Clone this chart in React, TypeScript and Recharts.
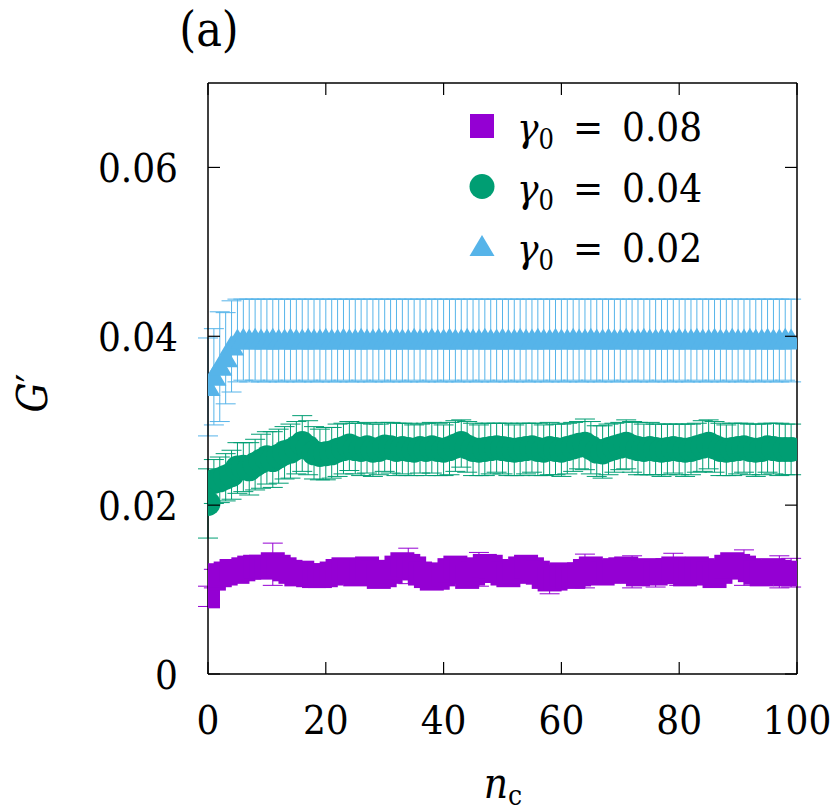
import React from 'react';
import { ScatterChart, Scatter, XAxis, YAxis, ErrorBar } from 'recharts';

// cycle index n_c
const nc = [
  0, 1, 2, 3, 4, 5, 6, 7, 8, 9, 10, 11, 12, 13, 14, 15, 16, 17, 18, 19,
  20, 21, 22, 23, 24, 25, 26, 27, 28, 29, 30, 31, 32, 33, 34, 35, 36, 37, 38, 39,
  40, 41, 42, 43, 44, 45, 46, 47, 48, 49, 50, 51, 52, 53, 54, 55, 56, 57, 58, 59,
  60, 61, 62, 63, 64, 65, 66, 67, 68, 69, 70, 71, 72, 73, 74, 75, 76, 77, 78, 79,
  80, 81, 82, 83, 84, 85, 86, 87, 88, 89, 90, 91, 92, 93, 94, 95, 96, 97, 98, 99,
];

// gamma0 = 0.08
const g008 = [
  0.0092, 0.0113, 0.0117, 0.0119, 0.0122, 0.0121, 0.0124, 0.0126, 0.0127, 0.0127,
  0.0126, 0.0130, 0.0127, 0.0124, 0.0121, 0.0118, 0.0120, 0.0117, 0.0116, 0.0116,
  0.0117, 0.0119, 0.0122, 0.0124, 0.0121, 0.0118, 0.0123, 0.0125, 0.0120, 0.0115,
  0.0117, 0.0121, 0.0126, 0.0130, 0.0128, 0.0125, 0.0119, 0.0116, 0.0113, 0.0114,
  0.0118, 0.0123, 0.0126, 0.0121, 0.0115, 0.0119, 0.0124, 0.0128, 0.0127, 0.0122,
  0.0119, 0.0117, 0.0121, 0.0125, 0.0127, 0.0124, 0.0120, 0.0115, 0.0112, 0.0113,
  0.0118, 0.0116, 0.0115, 0.0118, 0.0122, 0.0125, 0.0121, 0.0119, 0.0121, 0.0123,
  0.0124, 0.0125, 0.0121, 0.0118, 0.0120, 0.0123, 0.0119, 0.0121, 0.0123, 0.0125,
  0.0121, 0.0118, 0.0122, 0.0125, 0.0123, 0.0119, 0.0116, 0.0121, 0.0127, 0.0130,
  0.0128, 0.0126, 0.0123, 0.0120, 0.0118, 0.0121, 0.0123, 0.0121, 0.0118, 0.0120,
];
const g008Err = [
  0.0012, 0.0011, 0.0010, 0.0010, 0.0011, 0.0010, 0.0011, 0.0011, 0.0010, 0.0011,
  0.0012, 0.0025, 0.0011, 0.0010, 0.0010, 0.0011, 0.0010, 0.0011, 0.0010, 0.0011,
  0.0010, 0.0011, 0.0011, 0.0010, 0.0011, 0.0010, 0.0011, 0.0011, 0.0010, 0.0011,
  0.0010, 0.0011, 0.0011, 0.0012, 0.0021, 0.0011, 0.0011, 0.0010, 0.0011, 0.0010,
  0.0011, 0.0010, 0.0011, 0.0010, 0.0011, 0.0011, 0.0020, 0.0011, 0.0011, 0.0010,
  0.0011, 0.0010, 0.0011, 0.0011, 0.0011, 0.0010, 0.0011, 0.0011, 0.0017, 0.0011,
  0.0010, 0.0011, 0.0010, 0.0011, 0.0020, 0.0011, 0.0010, 0.0011, 0.0010, 0.0011,
  0.0010, 0.0011, 0.0019, 0.0011, 0.0010, 0.0011, 0.0016, 0.0011, 0.0010, 0.0018,
  0.0016, 0.0011, 0.0010, 0.0011, 0.0010, 0.0011, 0.0010, 0.0011, 0.0011, 0.0011,
  0.0010, 0.0021, 0.0011, 0.0010, 0.0011, 0.0010, 0.0011, 0.0019, 0.0010, 0.0017,
];

// gamma0 = 0.04
const g004 = [
  0.0202, 0.0228, 0.0230, 0.0233, 0.0236, 0.0244, 0.0245, 0.0243, 0.0248, 0.0252,
  0.0256, 0.0254, 0.0258, 0.0262, 0.0264, 0.0268, 0.0273, 0.0268, 0.0262, 0.0260,
  0.0261, 0.0262, 0.0265, 0.0267, 0.0270, 0.0267, 0.0266, 0.0268, 0.0265, 0.0266,
  0.0269, 0.0268, 0.0266, 0.0267, 0.0266, 0.0265, 0.0267, 0.0266, 0.0268, 0.0266,
  0.0265, 0.0267, 0.0270, 0.0273, 0.0269, 0.0266, 0.0265, 0.0266, 0.0267, 0.0268,
  0.0267, 0.0266, 0.0265, 0.0266, 0.0267, 0.0268, 0.0266, 0.0265, 0.0267, 0.0266,
  0.0265, 0.0267, 0.0269, 0.0271, 0.0272, 0.0268, 0.0264, 0.0263, 0.0266, 0.0268,
  0.0270, 0.0272, 0.0269, 0.0267, 0.0266, 0.0267, 0.0266, 0.0265, 0.0266, 0.0267,
  0.0266, 0.0265, 0.0266, 0.0268, 0.0270, 0.0272, 0.0269, 0.0266, 0.0265, 0.0266,
  0.0267, 0.0268, 0.0266, 0.0265, 0.0266, 0.0268, 0.0267, 0.0266, 0.0266, 0.0266,
];
const g004Err = [
  0.0041, 0.0026, 0.0027, 0.0028, 0.0029, 0.0030, 0.0029, 0.0031, 0.0030, 0.0032,
  0.0031, 0.0033, 0.0032, 0.0031, 0.0032, 0.0031, 0.0033, 0.0032, 0.0031, 0.0030,
  0.0031, 0.0030, 0.0031, 0.0030, 0.0029, 0.0030, 0.0031, 0.0030, 0.0031, 0.0030,
  0.0029, 0.0030, 0.0031, 0.0030, 0.0031, 0.0030, 0.0029, 0.0031, 0.0030, 0.0031,
  0.0030, 0.0031, 0.0030, 0.0028, 0.0030, 0.0031, 0.0030, 0.0031, 0.0030, 0.0029,
  0.0030, 0.0031, 0.0030, 0.0031, 0.0030, 0.0029, 0.0031, 0.0030, 0.0031, 0.0030,
  0.0031, 0.0030, 0.0029, 0.0028, 0.0030, 0.0031, 0.0030, 0.0031, 0.0030, 0.0029,
  0.0028, 0.0029, 0.0030, 0.0031, 0.0030, 0.0031, 0.0030, 0.0031, 0.0030, 0.0029,
  0.0030, 0.0031, 0.0030, 0.0029, 0.0030, 0.0029, 0.0030, 0.0031, 0.0030, 0.0031,
  0.0030, 0.0029, 0.0030, 0.0031, 0.0030, 0.0029, 0.0030, 0.0031, 0.0030, 0.0030,
];

// gamma0 = 0.02
const g002 = [
  0.0340, 0.0352, 0.0364, 0.0374, 0.0388, 0.0395, 0.0396, 0.0395, 0.0396, 0.0395,
  0.0395, 0.0396, 0.0395, 0.0395, 0.0396, 0.0395, 0.0395, 0.0396, 0.0395, 0.0395,
  0.0396, 0.0395, 0.0395, 0.0396, 0.0395, 0.0395, 0.0396, 0.0395, 0.0395, 0.0396,
  0.0395, 0.0395, 0.0396, 0.0395, 0.0395, 0.0396, 0.0395, 0.0395, 0.0396, 0.0395,
  0.0395, 0.0396, 0.0395, 0.0395, 0.0396, 0.0395, 0.0395, 0.0396, 0.0395, 0.0395,
  0.0396, 0.0395, 0.0395, 0.0396, 0.0395, 0.0395, 0.0396, 0.0395, 0.0395, 0.0396,
  0.0395, 0.0395, 0.0396, 0.0395, 0.0395, 0.0396, 0.0395, 0.0395, 0.0396, 0.0395,
  0.0395, 0.0396, 0.0395, 0.0395, 0.0396, 0.0395, 0.0395, 0.0396, 0.0395, 0.0395,
  0.0396, 0.0395, 0.0395, 0.0396, 0.0395, 0.0395, 0.0396, 0.0395, 0.0395, 0.0396,
  0.0395, 0.0395, 0.0396, 0.0395, 0.0395, 0.0396, 0.0395, 0.0395, 0.0396, 0.0395,
];
const g002Err = [
  0.0058, 0.0057, 0.0065, 0.0054, 0.0054, 0.0049, 0.0048, 0.0049, 0.0048, 0.0049,
  0.0049, 0.0048, 0.0049, 0.0049, 0.0048, 0.0049, 0.0049, 0.0048, 0.0049, 0.0049,
  0.0048, 0.0049, 0.0049, 0.0048, 0.0049, 0.0049, 0.0048, 0.0049, 0.0049, 0.0048,
  0.0049, 0.0049, 0.0048, 0.0049, 0.0049, 0.0048, 0.0049, 0.0049, 0.0048, 0.0049,
  0.0049, 0.0048, 0.0049, 0.0049, 0.0048, 0.0049, 0.0049, 0.0048, 0.0049, 0.0049,
  0.0048, 0.0049, 0.0049, 0.0048, 0.0049, 0.0049, 0.0048, 0.0049, 0.0049, 0.0048,
  0.0049, 0.0049, 0.0048, 0.0049, 0.0049, 0.0048, 0.0049, 0.0049, 0.0048, 0.0049,
  0.0049, 0.0048, 0.0049, 0.0049, 0.0048, 0.0049, 0.0049, 0.0048, 0.0049, 0.0049,
  0.0048, 0.0049, 0.0049, 0.0048, 0.0049, 0.0049, 0.0048, 0.0049, 0.0049, 0.0048,
  0.0049, 0.0049, 0.0048, 0.0049, 0.0049, 0.0048, 0.0049, 0.0049, 0.0048, 0.0049,
];

const xTicks = [0, 20, 40, 60, 80, 100];
const yTicks = [0, 0.02, 0.04, 0.06];
const legendLabels = ['0.08', '0.04', '0.02'];

const PURPLE = '#9400d3';
const GREEN = '#009e73';
const BLUE = '#56b4e9';
const FONT = "'DejaVu Serif Condensed', 'DejaVu Serif', serif";
const FS = 40;
const TICK_LEN = 12;

const toRows = (vals: number[], errs: number[]) =>
  nc.map((n, i) => ({ n, v: vals[i], err: errs[i] }));

const purpleRows = toRows(g008, g008Err);
const greenRows = toRows(g004, g004Err);
const blueRows = toRows(g002, g002Err);

const fmtY = (v: number) => (v === 0 ? '0' : v.toFixed(2));

const SquareMark = ({ cx, cy }: any) => (
  <rect x={cx - 12} y={cy - 12} width={24} height={24} fill={PURPLE} />
);
const CircleMark = ({ cx, cy }: any) => <circle cx={cx} cy={cy} r={12.5} fill={GREEN} />;
const TriangleMark = ({ cx, cy }: any) => (
  <polygon points={`${cx - 12.5},${cy + 9} ${cx + 12.5},${cy + 9} ${cx},${cy - 12}`} fill={BLUE} />
);

const textStyle = { fontFamily: FONT };

const BottomTick = ({ x, y, payload }: any) => (
  <g>
    <line x1={x} y1={y} x2={x} y2={y - TICK_LEN} stroke="#000" strokeWidth={1.2} />
    <text x={x} y={y + 60} textAnchor="middle" fontSize={FS} style={textStyle} fill="#000">
      {payload.value}
    </text>
  </g>
);
const TopTick = ({ x, y }: any) => (
  <line x1={x} y1={y} x2={x} y2={y + TICK_LEN} stroke="#000" strokeWidth={1.2} />
);
const LeftTick = ({ x, y, payload }: any) => (
  <g>
    <line x1={x} y1={y} x2={x + TICK_LEN} y2={y} stroke="#000" strokeWidth={1.2} />
    <text x={x - 30} y={y + 15} textAnchor="end" fontSize={FS} style={textStyle} fill="#000">
      {fmtY(payload.value)}
    </text>
  </g>
);
const RightTick = ({ x, y }: any) => (
  <line x1={x} y1={y} x2={x - TICK_LEN} y2={y} stroke="#000" strokeWidth={1.2} />
);

const legendMarks = [
  (cx: number, cy: number) => <rect x={cx - 12} y={cy - 12} width={24} height={24} fill={PURPLE} />,
  (cx: number, cy: number) => <circle cx={cx} cy={cy} r={12.5} fill={GREEN} />,
  (cx: number, cy: number) => (
    <polygon points={`${cx - 12.5},${cy + 9} ${cx + 12.5},${cy + 9} ${cx},${cy - 12}`} fill={BLUE} />
  ),
];

const axisLine = { stroke: '#000', strokeWidth: 1.5 };

export default function App() {
  return (
    <div style={{ position: 'absolute', left: 0, top: 0, width: 830, height: 811, background: '#fff' }}>
      <ScatterChart width={830} height={811} margin={{ top: 73, right: 23, bottom: 77, left: 148 }}>
        <XAxis
          type="number"
          dataKey="n"
          domain={[0, 100]}
          ticks={xTicks}
          height={60}
          tickSize={0}
          tickMargin={0}
          tickLine={false}
          axisLine={axisLine}
          tick={<BottomTick />}
          allowDataOverflow
        />
        <XAxis
          xAxisId="top"
          orientation="top"
          type="number"
          dataKey="n"
          domain={[0, 100]}
          ticks={xTicks}
          height={10}
          tickSize={0}
          tickMargin={0}
          tickLine={false}
          axisLine={axisLine}
          tick={<TopTick />}
          allowDataOverflow
        />
        <YAxis
          type="number"
          dataKey="v"
          domain={[0, 0.07]}
          ticks={yTicks}
          width={60}
          tickSize={0}
          tickMargin={0}
          tickLine={false}
          axisLine={axisLine}
          tick={<LeftTick />}
          allowDataOverflow
        />
        <YAxis
          yAxisId="right"
          orientation="right"
          type="number"
          dataKey="v"
          domain={[0, 0.07]}
          ticks={yTicks}
          width={10}
          tickSize={0}
          tickMargin={0}
          tickLine={false}
          axisLine={axisLine}
          tick={<RightTick />}
          allowDataOverflow
        />
        <Scatter data={purpleRows} shape={SquareMark} isAnimationActive={false}>
          <ErrorBar dataKey="err" direction="y" width={10} stroke={PURPLE} strokeWidth={1} isAnimationActive={false} />
        </Scatter>
        <Scatter data={greenRows} shape={CircleMark} isAnimationActive={false}>
          <ErrorBar dataKey="err" direction="y" width={10} stroke={GREEN} strokeWidth={1} isAnimationActive={false} />
        </Scatter>
        <Scatter data={blueRows} shape={TriangleMark} isAnimationActive={false}>
          <ErrorBar dataKey="err" direction="y" width={10} stroke={BLUE} strokeWidth={1} isAnimationActive={false} />
        </Scatter>
      </ScatterChart>

      <svg
        width={830}
        height={811}
        style={{ position: 'absolute', left: 0, top: 0, pointerEvents: 'none', fontFamily: FONT }}
      >
        <text x={209} y={46} textAnchor="middle" fontSize={48} fill="#000">
          (a)
        </text>
        <text transform="rotate(-90 47 393)" x={47} y={393} textAnchor="middle" fontSize={42} fill="#000">
          <tspan fontStyle="italic">G</tspan>′
        </text>
        <text x={503} y={798} textAnchor="middle" fontSize={42} fill="#000">
          <tspan fontStyle="italic">n</tspan>
          <tspan fontSize={28} dy={7}>c</tspan>
        </text>
        {legendLabels.map((lab, i) => {
          const cy = 126 + i * 60.5;
          return (
            <g key={lab}>
              {legendMarks[i](482, cy)}
              <text x={517} y={cy + 15} fontSize={FS} fill="#000">
                <tspan fontStyle="italic">γ</tspan>
                <tspan fontSize={27} dy={8}>0</tspan>
                <tspan x={573} dy={-8}>=</tspan>
                <tspan x={622}>{lab}</tspan>
              </text>
            </g>
          );
        })}
      </svg>
    </div>
  );
}
